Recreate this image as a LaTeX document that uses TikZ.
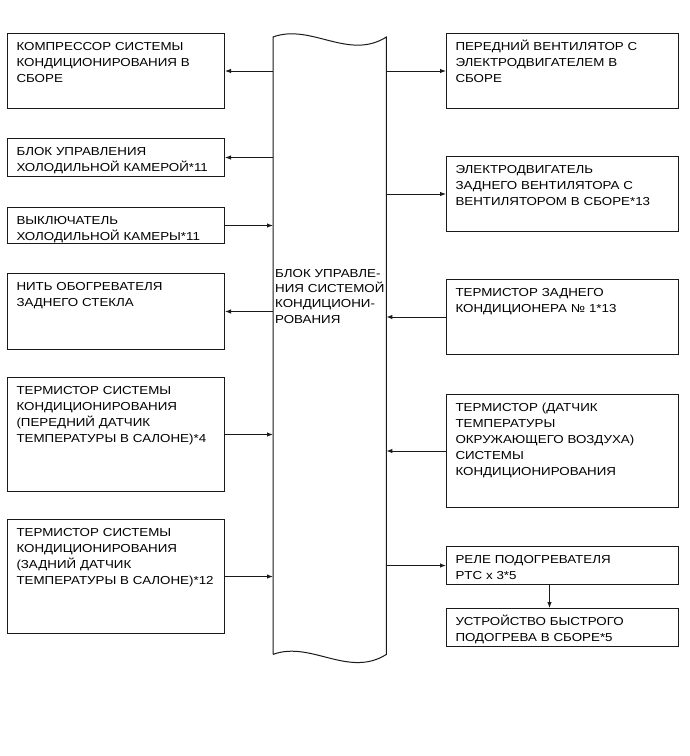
\documentclass[tikz,border=0pt]{standalone}
\usepackage{fontspec}
\setmainfont{Liberation Sans}[FakeStretch=1.15]
\usepackage{tikz}
\usetikzlibrary{arrows.meta,positioning}
\definecolor{Ink}{HTML}{1A1A1A}

\tikzset{
  boxfont/.style={font=\fontsize{11.6}{16}\selectfont},
  lbox/.style={draw=Ink, line width=1pt, boxfont, anchor=north west, align=left,
    inner xsep=9pt, inner ysep=8pt, text width=199pt, text height=8.8pt, text depth=#1},
  rbox/.style={lbox=#1, text width=214pt},
  arr/.style={draw=Ink, line width=1pt, -{Latex[length=6pt,width=4.5pt]}}
}

\begin{document}
\begin{tikzpicture}[x=1pt, y=-1pt]
  \useasboundingbox (0,0) rectangle (690,756);
  % control unit
  \node[font=\fontsize{11.6}{15.4}\selectfont, anchor=north west, align=left, inner xsep=2pt, inner ysep=0pt,
    text width=109pt, text height=239.8pt, text depth=377.2pt] (ctrl) at (273,37)
    {\mbox{БЛОК УПРАВЛЕ-}\\\mbox{НИЯ СИСТЕМОЙ}\\\mbox{КОНДИЦИОНИ-}\\РОВАНИЯ};
  \draw[Ink, line width=1pt] (ctrl.south west) -- (ctrl.north west)
    .. controls +(38,-14) and +(-38,24) .. (ctrl.north east) -- (ctrl.south east)
    .. controls +(-38,24) and +(38,-14) .. (ctrl.south west);

  % left side
  \node[lbox=50.2pt] (comp) at (7,33) {КОМПРЕССОР СИСТЕМЫ\\КОНДИЦИОНИРОВАНИЯ В\\СБОРЕ};
  \node[lbox=13.2pt] (coldecu) at (7,138) {БЛОК УПРАВЛЕНИЯ\\ХОЛОДИЛЬНОЙ КАМЕРОЙ*11};
  \node[lbox=11.2pt] (coldsw) at (7,207) {ВЫКЛЮЧАТЕЛЬ\\ХОЛОДИЛЬНОЙ КАМЕРЫ*11};
  \node[lbox=51.2pt] (defog) at (7,273) {НИТЬ ОБОГРЕВАТЕЛЯ\\ЗАДНЕГО СТЕКЛА};
  \node[lbox=89.2pt] (frtemp) at (7,377) {ТЕРМИСТОР СИСТЕМЫ\\КОНДИЦИОНИРОВАНИЯ\\(ПЕРЕДНИЙ ДАТЧИК\\ТЕМПЕРАТУРЫ В САЛОНЕ)*4};
  \node[lbox=89.2pt] (rrtemp) at (7,519) {ТЕРМИСТОР СИСТЕМЫ\\КОНДИЦИОНИРОВАНИЯ\\(ЗАДНИЙ ДАТЧИК\\ТЕМПЕРАТУРЫ В САЛОНЕ)*12};

  % right side
  \node[rbox=50.2pt] (frfan) at (446,33) {ПЕРЕДНИЙ ВЕНТИЛЯТОР С\\ЭЛЕКТРОДВИГАТЕЛЕМ В\\СБОРЕ};
  \node[rbox=50.2pt] (rrfan) at (446,156) {ЭЛЕКТРОДВИГАТЕЛЬ\\ЗАДНЕГО ВЕНТИЛЯТОРА С\\ВЕНТИЛЯТОРОМ В СБОРЕ*13};
  \node[rbox=50.2pt] (rrac) at (446,279) {ТЕРМИСТОР ЗАДНЕГО\\КОНДИЦИОНЕРА № 1*13};
  \node[rbox=88.2pt] (ambient) at (446,394) {ТЕРМИСТОР (ДАТЧИК\\ТЕМПЕРАТУРЫ\\ОКРУЖАЮЩЕГО ВОЗДУХА)\\СИСТЕМЫ\\КОНДИЦИОНИРОВАНИЯ};
  \node[rbox=13.2pt] (ptc) at (446,546) {РЕЛЕ ПОДОГРЕВАТЕЛЯ\\PTC x 3*5};
  \node[rbox=13.2pt] (quick) at (446,608) {УСТРОЙСТВО БЫСТРОГО\\ПОДОГРЕВА В СБОРЕ*5};

  % connectors
  \foreach \b in {comp,coldecu,defog}
    \draw[arr] (ctrl.west |- \b.east) -- (\b.east);
  \foreach \b in {coldsw,frtemp,rrtemp}
    \draw[arr] (\b.east) -- (ctrl.west |- \b.east);
  \foreach \b in {frfan,rrfan,ptc}
    \draw[arr] (ctrl.east |- \b.west) -- (\b.west);
  \foreach \b in {rrac,ambient}
    \draw[arr] (\b.west) -- (ctrl.east |- \b.west);
  \draw[arr] ([xshift=-13pt]ptc.south) -- ([xshift=-13pt]quick.north);
\end{tikzpicture}
\end{document}
